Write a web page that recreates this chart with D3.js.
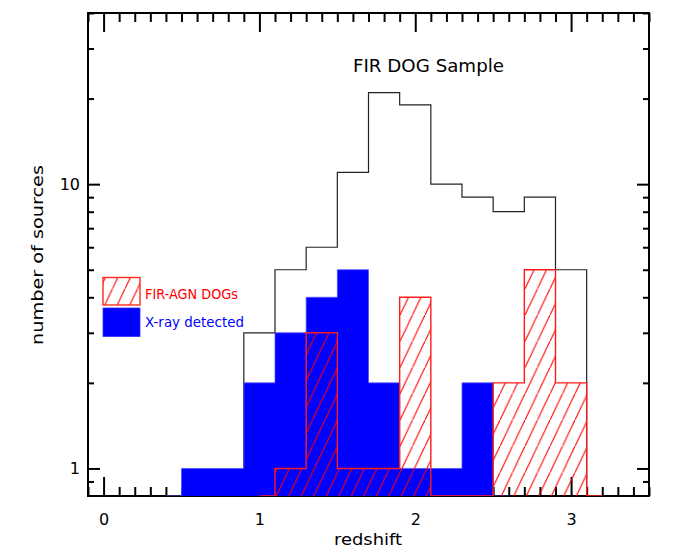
<!DOCTYPE html>
<html>
<head>
<meta charset="utf-8">
<script src="https://cdn.jsdelivr.net/npm/d3@7"></script>
<style>
body{margin:0;background:#fff}
svg text{font-family:"DejaVu Sans",sans-serif;fill:#000}
</style>
</head>
<body>
<div id="chart"></div>
<script>
// redshift bin centres (bin width 0.2)
var zCenters = [0.4,0.6,0.8,1.0,1.2,1.4,1.6,1.8,2.0,2.2,2.4,2.6,2.8,3.0,3.2]
// FIR DOG sample (black outline)
var firDog   = [0,0,0,3,5,6,11,21,19,10,9,8,9,5,0]
// X-ray detected (blue, filled) - drawn 0.4 .. 2.6
var xray     = [0,1,1,2,3,4,5,2,1,1,2,0,null,null,null]
// FIR-AGN DOGs (red, hatched) - drawn 1.0 .. 3.2
var firAgn   = [null,null,null,0,1,3,1,1,4,0,0,2,5,2,0]

var xMajor = [0,1,2,3]
var yMajor = [1,10]
var yMinor = [0.9,2,3,4,5,6,7,8,9,20,30,40]
var legendItems = ['FIR-AGN DOGs','X-ray detected']

var W=678, H=559
// plot box (window.top is read-only, so keep these names apart)
var pLeft=88, pRight=649, pTop=13, pBottom=496
var halfBin=0.1

var svg=d3.select('#chart').append('svg')
    .attr('width',W).attr('height',H)

var x=d3.scaleLinear().domain([-0.1,3.5]).range([pLeft,pRight])
var y=d3.scaleLog().domain([0.8,40]).range([pBottom,pTop])

var defs=svg.append('defs')
defs.append('clipPath').attr('id','plotclip')
    .append('rect').attr('x',pLeft).attr('y',pTop-1)
    .attr('width',pRight-pLeft).attr('height',pBottom-pTop+1)

// red "/" hatching
var hw=12.5, slope=2.1, hh=hw*slope
var pat=defs.append('pattern').attr('id','hatch')
    .attr('patternUnits','userSpaceOnUse')
    .attr('width',hw).attr('height',hh)
pat.append('line')
    .attr('x1',-hw).attr('y1',hh+hh)
    .attr('x2',hw+hw).attr('y2',-hh)
    .style('stroke','#ff0000').style('stroke-width',1.1)

// ---- axes (drawn first, histograms go on top) ----
function MinorRange(){
    var t=[]
    for(var i=-1;i<=35;i++){
	var v=i/10
	if(xMajor.indexOf(v)<0) t.push(v)
    }
    return t
}
var xMinor=MinorRange()

function StyleAxis(g){
    g.select('.domain').remove()
    g.selectAll('line').style('stroke','#000').style('stroke-width',2)
    g.selectAll('text').style('font-size','16px')
	.style('font-family','"DejaVu Sans",sans-serif').style('fill','#000')
}

svg.append('g').attr('transform','translate(0,'+pBottom+')')
    .call(d3.axisBottom(x).tickValues(xMajor).tickSize(-19).tickPadding(18)
	  .tickFormat(d3.format('d')))
    .call(StyleAxis)
svg.append('g').attr('transform','translate(0,'+pBottom+')')
    .call(d3.axisBottom(x).tickValues(xMinor).tickSize(-9).tickFormat(''))
    .call(StyleAxis)
svg.append('g').attr('transform','translate(0,'+pTop+')')
    .call(d3.axisTop(x).tickValues(xMajor).tickSize(-19).tickFormat(''))
    .call(StyleAxis)
svg.append('g').attr('transform','translate(0,'+pTop+')')
    .call(d3.axisTop(x).tickValues(xMinor).tickSize(-9).tickFormat(''))
    .call(StyleAxis)

svg.append('g').attr('transform','translate('+pLeft+',0)')
    .call(d3.axisLeft(y).tickValues(yMajor).tickSize(-12).tickPadding(8)
	  .tickFormat(d3.format('d')))
    .call(StyleAxis)
svg.append('g').attr('transform','translate('+pLeft+',0)')
    .call(d3.axisLeft(y).tickValues(yMinor).tickSize(-6).tickFormat(''))
    .call(StyleAxis)
svg.append('g').attr('transform','translate('+pRight+',0)')
    .call(d3.axisRight(y).tickValues(yMajor).tickSize(-12).tickFormat(''))
    .call(StyleAxis)
svg.append('g').attr('transform','translate('+pRight+',0)')
    .call(d3.axisRight(y).tickValues(yMinor).tickSize(-6).tickFormat(''))
    .call(StyleAxis)

svg.append('rect')
    .attr('x',pLeft).attr('y',pTop)
    .attr('width',pRight-pLeft).attr('height',pBottom-pTop)
    .style('fill','none').style('stroke','#000').style('stroke-width',2)

// ---- histograms (IDL psym=10 style: end bins are half width) ----
function StepPoints(vals){
    var idx=[]
    vals.forEach(function(v,i){ if(v!=null) idx.push(i) })
    var first=idx[0], last=idx[idx.length-1]
    var pts=[]
    idx.forEach(function(i){
	var c=zCenters[i]
	var a= i==first ? c : c-halfBin
	var b= i==last ? c : c+halfBin
	pts.push([a,vals[i]])
	pts.push([b,vals[i]])
    })
    return pts
}
function Yc(v){ return v<=0 ? pBottom : y(v) }

var stepLine=d3.line()
    .x(function(d){return x(d[0])})
    .y(function(d){return Yc(d[1])})

function Closed(pts){
    return [[pts[0][0],0]].concat(pts).concat([[pts[pts.length-1][0],0]])
}

var plot=svg.append('g').attr('clip-path','url(#plotclip)')

plot.append('path')
    .datum(StepPoints(firDog))
    .attr('d',stepLine)
    .style('fill','none').style('stroke','#222').style('stroke-width',1.2)

plot.append('path')
    .datum(Closed(StepPoints(xray)))
    .attr('d',stepLine)
    .style('fill','#0000ff').style('stroke','#5050ff').style('stroke-width',0.8)

var redPts=StepPoints(firAgn)
plot.append('path')
    .datum(Closed(redPts))
    .attr('d',stepLine)
    .style('fill','url(#hatch)').style('stroke','none')
plot.append('path')
    .datum(redPts)
    .attr('d',stepLine)
    .style('fill','none').style('stroke','#ff1a1a').style('stroke-width',1.4)

// ---- legend ----
var lg=svg.append('g')
lg.append('rect').attr('x',103).attr('y',277.5).attr('width',37).attr('height',27.5)
    .style('fill','url(#hatch)').style('stroke','#ff2a1a').style('stroke-width',1.4)
lg.append('rect').attr('x',103).attr('y',308).attr('width',37).attr('height',28.5)
    .style('fill','#0000ff').style('stroke','#3030ff').style('stroke-width',0.8)
lg.append('text').attr('x',145).attr('y',298.5)
    .attr('textLength',93).attr('lengthAdjust','spacingAndGlyphs')
    .style('font-size','14px').style('fill','#ff0000').text(legendItems[0])
lg.append('text').attr('x',145).attr('y',326.5)
    .attr('textLength',99).attr('lengthAdjust','spacingAndGlyphs')
    .style('font-size','14px').style('fill','#0000ff').text(legendItems[1])

// ---- titles ----
svg.append('text').attr('x',353).attr('y',71.5)
    .attr('textLength',151).attr('lengthAdjust','spacingAndGlyphs')
    .style('font-size','17px').text('FIR DOG Sample')

svg.append('text').attr('x',334).attr('y',545)
    .attr('textLength',68).attr('lengthAdjust','spacingAndGlyphs')
    .style('font-size','16px').text('redshift')

svg.append('text')
    .attr('transform','translate(43,345) rotate(-90)')
    .attr('textLength',180).attr('lengthAdjust','spacingAndGlyphs')
    .style('font-size','16px').text('number of sources')
</script>
</body>
</html>
